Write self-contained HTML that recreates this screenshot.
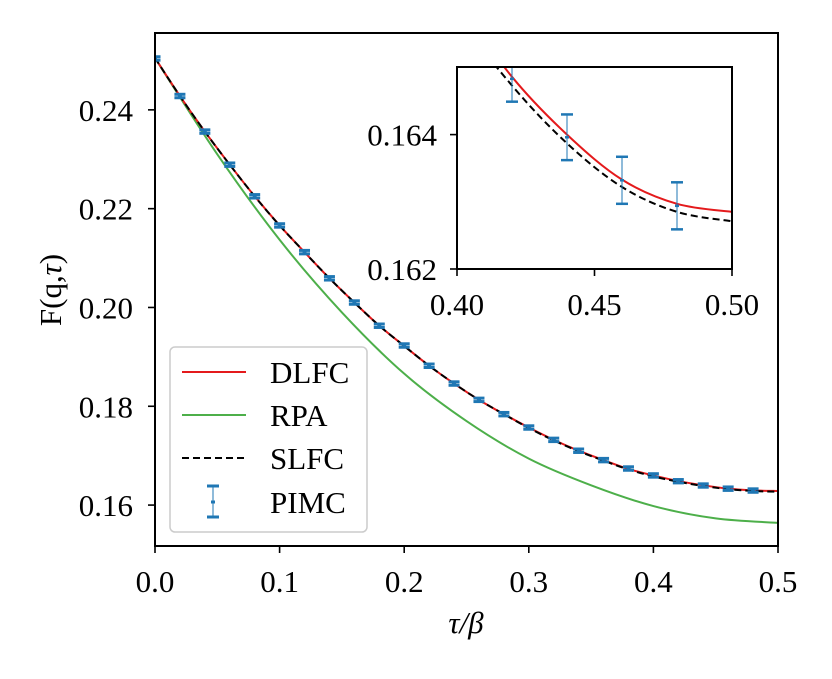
<!DOCTYPE html>
<html><head><meta charset="utf-8"><style>
body{margin:0;background:#fff}
text{font-family:"Liberation Serif","DejaVu Serif",serif;fill:#000}
</style></head><body>
<svg width="832" height="674" viewBox="0 0 832 674" id="svg">
<defs>
<clipPath id="cm"><rect x="155" y="33" width="623" height="513"/></clipPath>
<clipPath id="ci"><rect x="457" y="67" width="275" height="202"/></clipPath>
</defs>
<rect width="832" height="674" fill="#fff"/>
<g id="main"></g>
<g id="legend">
<rect x="170" y="347" width="197" height="185" rx="5" fill="#fff" fill-opacity="0.8" stroke="#ccc" stroke-width="1.5"/>
<line x1="182" y1="372" x2="246" y2="372" stroke="#e41a1c" stroke-width="2"/>
<text x="270" y="383" font-size="31">DLFC</text>
<line x1="182" y1="415" x2="246" y2="415" stroke="#4daf4a" stroke-width="2"/>
<text x="270" y="426" font-size="31">RPA</text>
<line x1="182" y1="458" x2="246" y2="458" stroke="#000" stroke-width="2" stroke-dasharray="7,4"/>
<text x="270" y="469" font-size="31">SLFC</text>
<g stroke="#1f77b4">
<line x1="213" y1="486" x2="213" y2="517" stroke-width="1"/><line x1="207" y1="486" x2="219" y2="486" stroke-width="3"/><line x1="207" y1="517" x2="219" y2="517" stroke-width="3"/><line x1="211" y1="502" x2="215" y2="502" stroke-width="3"/></g>
<text x="270" y="513" font-size="31">PIMC</text>
</g>
<g id="inset"></g>
<text x="466" y="633" font-size="31" text-anchor="middle" font-style="italic">τ/β</text>
<text transform="translate(61,290) rotate(-90)" font-size="31" text-anchor="middle">F(q,<tspan font-style="italic">τ</tspan>)</text>
</svg>
<script>
const pimcTau=[0,0.02,0.04,0.06,0.08,0.10,0.12,0.14,0.16,0.18,0.20,0.22,0.24,0.26,0.28,0.30,0.32,0.34,0.36,0.38,0.40,0.42,0.44,0.46,0.48];
const pimcVal=[0.2504,0.2428,0.2356,0.2289,0.2225,0.2166,0.2112,0.2059,0.2010,0.1963,0.1923,0.1882,0.1846,0.1813,0.1784,0.1757,0.1732,0.1710,0.1691,0.1674,0.1660,0.16483,0.16396,0.16332,0.16294];
const pimcErr=[0.00035,0.00035,0.00035,0.00035,0.00035,0.00035,0.00035,0.00035,0.00035,0.00035,0.00035,0.00035,0.00035,0.00035,0.00035,0.00035,0.00035,0.00035,0.00035,0.00035,0.00035,0.00034,0.00034,0.00035,0.00035];
const lfcTau=[0,0.02,0.04,0.06,0.08,0.10,0.12,0.14,0.16,0.18,0.20,0.22,0.24,0.26,0.28,0.30,0.32,0.34,0.36,0.38,0.40,0.42,0.44,0.46,0.48,0.50];
const dlfcVal=[0.2505,0.2428,0.2356,0.2289,0.2225,0.2166,0.2112,0.2059,0.2010,0.1963,0.1922,0.1882,0.1846,0.1813,0.1784,0.1757,0.1732,0.1710,0.1691,0.1673,0.1660,0.16486,0.16400,0.16333,0.16297,0.16285];
const slfcVal=[0.2505,0.2428,0.2356,0.2289,0.2225,0.2166,0.2112,0.2059,0.2010,0.1963,0.1922,0.1882,0.1846,0.1813,0.1784,0.1756,0.1731,0.1709,0.1690,0.1672,0.1658,0.16473,0.16387,0.16322,0.16285,0.16271];
const rpaTau=[0,0.05,0.10,0.15,0.20,0.25,0.30,0.35,0.40,0.45,0.50];
const rpaVal=[0.2505,0.2310,0.2137,0.1990,0.1866,0.1770,0.1694,0.1640,0.1598,0.1573,0.1564];
const mainXTicks=[0,0.1,0.2,0.3,0.4,0.5];
const mainXLabels=["0.0","0.1","0.2","0.3","0.4","0.5"];
const mainYTicks=[0.16,0.18,0.20,0.22,0.24];
const mainYLabels=["0.16","0.18","0.20","0.22","0.24"];
const inXTicks=[0.40,0.45,0.50];
const inXLabels=["0.40","0.45","0.50"];
const inYTicks=[0.162,0.164];
const inYLabels=["0.162","0.164"];

const NS="http://www.w3.org/2000/svg";
function mk(p,t,a){const e=document.createElementNS(NS,t);for(const k in a)e.setAttribute(k,a[k]);p.appendChild(e);return e;}
function path(xs,ys,sx,sy){
  const P=xs.map((x,i)=>[sx(x),sy(ys[i])]);
  let d="M"+P[0][0]+","+P[0][1];
  for(let i=0;i<P.length-1;i++){
    const p0=P[Math.max(0,i-1)],p1=P[i],p2=P[i+1],p3=P[Math.min(P.length-1,i+2)];
    const c1=[p1[0]+(p2[0]-p0[0])/6,p1[1]+(p2[1]-p0[1])/6];
    const c2=[p2[0]-(p3[0]-p1[0])/6,p2[1]-(p3[1]-p1[1])/6];
    d+=` C${c1[0]},${c1[1]} ${c2[0]},${c2[1]} ${p2[0]},${p2[1]}`;
  }
  return d;
}
function panel(g,box,xd,yd,clip,cap,capW,fs,xt,xl,yt,yl,showRpa,ylOff){
  const sx=v=>box.x0+(v-xd[0])/(xd[1]-xd[0])*(box.x1-box.x0);
  const sy=v=>box.y1-(v-yd[0])/(yd[1]-yd[0])*(box.y1-box.y0);
  const c=mk(g,"g",{"clip-path":`url(#${clip})`});
  if(showRpa){const r=mk(c,"path",{d:path(rpaTau,rpaVal,sx,sy),fill:"none",stroke:"#4daf4a","stroke-width":2});
    
    }
  const a=mk(c,"path",{d:path(lfcTau,dlfcVal,sx,sy),fill:"none",stroke:"#e41a1c","stroke-width":2});
  
  
  const b=mk(c,"path",{d:path(lfcTau,slfcVal,sx,sy),fill:"none",stroke:"#000","stroke-width":2,"stroke-dasharray":"7,4"});
  
  
  pimcTau.forEach((t,i)=>{
    const x=sx(t),y=sy(pimcVal[i]),yt1=sy(pimcVal[i]+pimcErr[i]),yb=sy(pimcVal[i]-pimcErr[i]);
    const e=mk(c,"g",{stroke:"#1f77b4"});
    
    
    mk(e,"line",{x1:x,x2:x,y1:yt1,y2:yb,"stroke-width":1});
    mk(e,"line",{x1:x-capW,x2:x+capW,y1:yt1,y2:yt1,"stroke-width":cap});
    mk(e,"line",{x1:x-capW,x2:x+capW,y1:yb,y2:yb,"stroke-width":cap});
    mk(e,"line",{x1:x-2,x2:x+2,y1:y,y2:y,"stroke-width":cap});
  });
  const f=mk(g,"rect",{x:box.x0,y:box.y0,width:box.x1-box.x0,height:box.y1-box.y0,fill:"none",stroke:"#000","stroke-width":2});
  
  
  xt.forEach((v,i)=>{const x=sx(v);
    mk(g,"line",{x1:x,x2:x,y1:box.y1,y2:box.y1+7,stroke:"#000","stroke-width":1.6});
    const t=mk(g,"text",{x:x,y:box.y1+46,"font-size":fs,"text-anchor":"middle"});t.textContent=xl[i];
    
    });
  yt.forEach((v,i)=>{const y=sy(v);
    mk(g,"line",{x1:box.x0-7,x2:box.x0,y1:y,y2:y,stroke:"#000","stroke-width":1.6});
    const t=mk(g,"text",{x:box.x0-ylOff,y:y+11,"font-size":fs,"text-anchor":"end"});t.textContent=yl[i];
    
    });
}
panel(document.getElementById("main"),{x0:155,x1:778,y0:33,y1:546},[0,0.5],[0.16-(546-505)/4950,0.24+(110-33)/4950],"cm",3,5.5,31,mainXTicks,mainXLabels,mainYTicks,mainYLabels,true,22);
panel(document.getElementById("inset"),{x0:457,x1:732,y0:67,y1:269},[0.40,0.50],[0.162,0.162+202/67200],"ci",2.5,6,31,inXTicks,inXLabels,inYTicks,inYLabels,false,20);
</script>
</body></html>
